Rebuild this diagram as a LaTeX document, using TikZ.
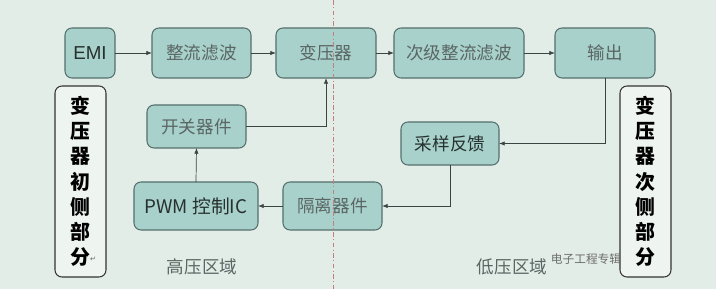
\documentclass[tikz,border=0pt]{standalone}
\usepackage{fontspec}
\setmainfont{Liberation Sans}
\newfontfamily\cjk{Noto Sans CJK SC}
\newfontfamily\symf{DejaVu Sans}
\usetikzlibrary{arrows.meta}
\definecolor{bgc}{HTML}{E3EDE8}
\definecolor{bfill}{HTML}{A8D1CC}
\definecolor{bdraw}{HTML}{546F6B}
\definecolor{gtext}{HTML}{5A6664}
\definecolor{dtext}{HTML}{26302E}
\definecolor{tallfill}{HTML}{EEF4F0}
\definecolor{divline}{HTML}{C77C80}
\definecolor{arrc}{HTML}{3A4442}
\begin{document}
\begin{tikzpicture}[x=0.03cm,y=-0.03cm,
  blk/.style={draw=bdraw, fill=bfill, line width=0.9pt, rounded corners=6pt,
    inner sep=0pt, outer sep=0pt, minimum height=1.5cm, font=\cjk\fontsize{15}{18}\selectfont, text=gtext},
  sblk/.style={blk, text=dtext},
  tall/.style={draw=black!80, fill=tallfill, line width=0.9pt, rounded corners=6pt,
    inner sep=0pt, outer sep=0pt, minimum width=1.53cm, minimum height=5.73cm,
    align=center, font=\cjk\bfseries\fontsize{17}{21.5}\selectfont, text=black},
  arr/.style={draw=arrc, line width=0.6pt, -{Latex[length=1.7mm,width=1.3mm]}},
  zone/.style={font=\cjk\fontsize{15}{18}\selectfont, text=gtext}]
\fill[bgc] (0,0) rectangle (716,289);
\useasboundingbox (0,0) rectangle (716,289);

% top row
\node[sblk, minimum width=1.5cm, font=\fontsize{16}{18}\selectfont] (emi) at (90,53) {EMI};
\node[blk, minimum width=2.97cm] (zl) at (201.5,53) {整流滤波};
\node[blk, minimum width=3cm] (byq) at (326,53) {变压器};
\node[blk, minimum width=3.9cm] (cj) at (459,53) {次级整流滤波};
\node[blk, minimum width=3cm] (out) at (605,53) {输出};

% lower boxes
\node[blk, minimum width=2.97cm, minimum height=1.29cm] (kg) at (196.5,126.5) {开关器件};
\node[sblk, minimum width=3.72cm, minimum height=1.44cm] (pwm) at (196,206) {\fontsize{16}{18}\selectfont PWM {\cjk 控制}IC};
\node[blk, minimum width=2.97cm, minimum height=1.44cm] (gl) at (332.5,206) {隔离器件};
\node[sblk, minimum width=2.94cm, minimum height=1.29cm] (cy) at (450,143.5) {采样反馈};

% tall side boxes
\node[tall] (lt) at (80.5,181.5) {变\\压\\器\\初\\侧\\部\\分};
\node[font=\symf\fontsize{6}{7}\selectfont, text=gtext] (ret) at (93,259) {↵};
\node[tall] (rt) at (645.5,181.5) {变\\压\\器\\次\\侧\\部\\分};

% zone labels
\node[zone] (hv) at (202,267) {高压区域};
\node[zone] (lv) at (512,267) {低压区域};

% connectors
\draw[arr] (emi) -- (zl);
\draw[arr] (zl) -- (byq);
\draw[arr] (byq) -- (cj);
\draw[arr] (cj) -- (out);
\draw[arr] (out.south) |- (cy.east);
\draw[arr] (cy.south) |- (gl.east);
\draw[arr] (gl) -- (pwm);
\draw[arr] (pwm.north) -- (kg.south);
\draw[arr] (kg.east) -| (byq.south);

% divider
\coordinate (dtop) at (333,0);
\coordinate (dbot) at (333,289);
\draw[divline, line width=0.6pt, dash pattern=on 4pt off 2pt on 1pt off 2pt] (dtop) -- (dbot);

% watermark
\node[font=\cjk\fontsize{10}{12}\selectfont, text=gray!85!black, inner sep=0pt] (wm) at (586,259) {电子工程专辑};
\end{tikzpicture}
\end{document}
